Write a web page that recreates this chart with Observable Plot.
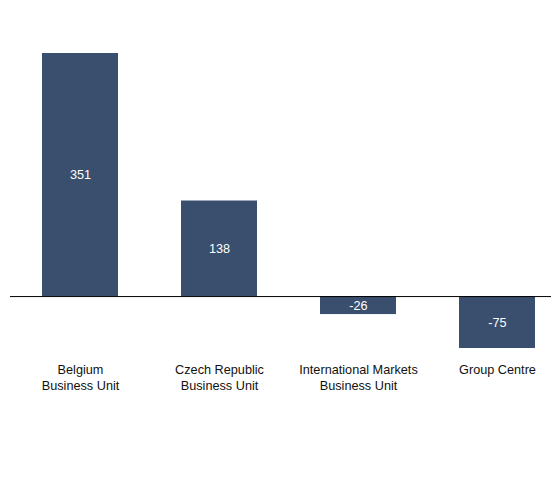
<!DOCTYPE html>
<html>
<head>
<meta charset="utf-8">
<script src="https://cdn.jsdelivr.net/npm/d3@7"></script>
<script src="https://cdn.jsdelivr.net/npm/@observablehq/plot@0.6"></script>
<style>
  html, body { margin: 0; padding: 0; background: #fff; }
</style>
</head>
<body>
<div id="chart"></div>
<script>
const categories = ["Belgium\nBusiness Unit", "Czech Republic\nBusiness Unit", "International Markets\nBusiness Unit", "Group Centre"];
const values = [351, 138, -26, -75];

const data = categories.map((c, i) => ({category: c, value: values[i]}));
const barColor = "#3a4e6e";

const chart = Plot.plot({
  width: 551,
  height: 496,
  marginTop: 53,
  marginBottom: 148,
  marginLeft: 10,
  marginRight: 0,
  style: {fontFamily: "'Liberation Sans', Arial, sans-serif", fontSize: "12.7px", background: "#fff"},
  x: {domain: categories, range: [10, 568], paddingInner: 0.45, paddingOuter: 0.225, axis: null},
  y: {domain: [-75, 351], axis: null},
  marks: [
    Plot.barY(data, {x: "category", y: "value", fill: barColor}),
    Plot.ruleY([0], {stroke: "#000", strokeWidth: 1}),
    Plot.text(data, {x: "category", y: d => d.value / 2, text: d => String(d.value), fill: "#fff", fontSize: 12.7}),
    Plot.axisX({anchor: "bottom", tickSize: 0, tickPadding: 15, fontSize: 12.7, lineHeight: 1.2, label: null, fill: "#111"})
  ]
});
document.getElementById("chart").appendChild(chart);
</script>
</body>
</html>
